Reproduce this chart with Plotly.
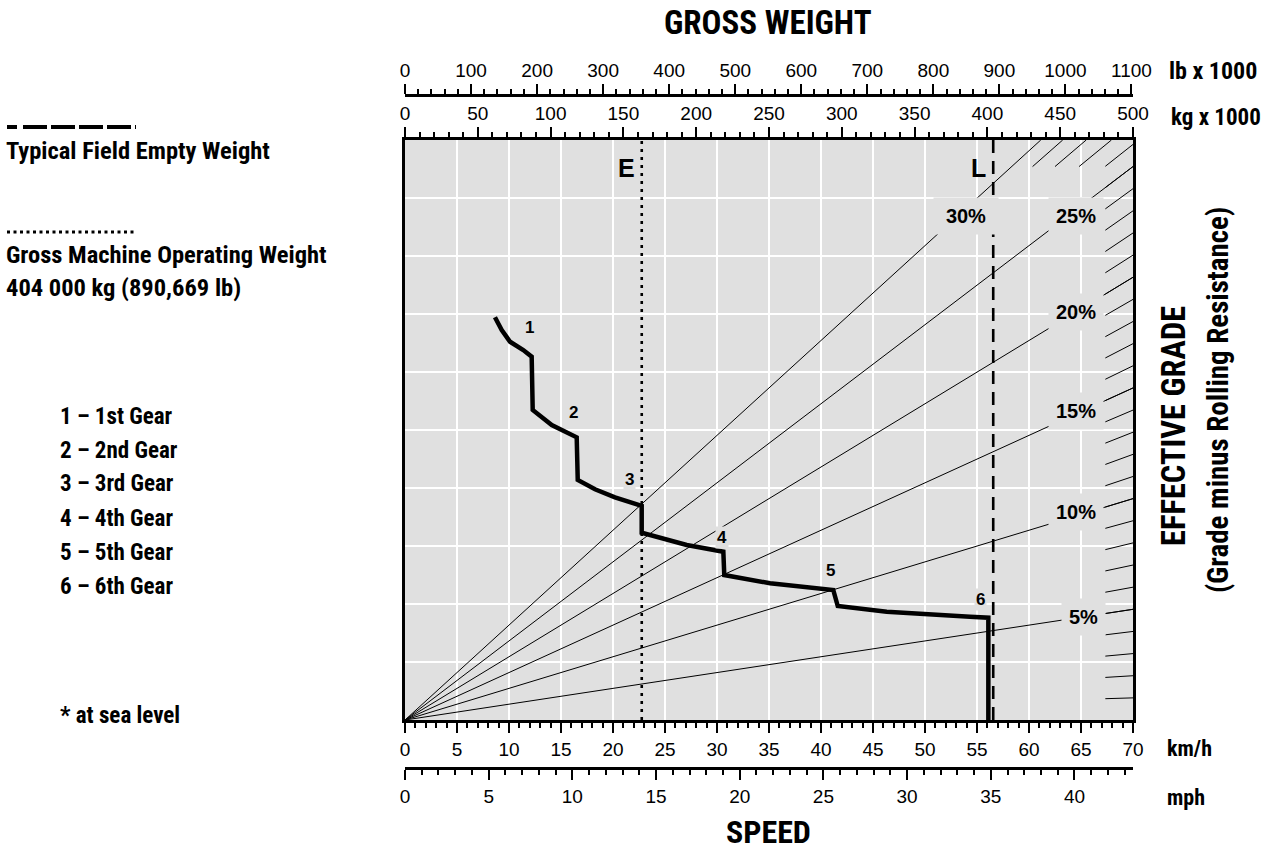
import plotly.graph_objects as go

# ---------------- data ----------------
SPEED_KMH = [8.65, 9.30, 10.10, 11.37, 12.18, 12.28, 14.11, 16.51, 16.61, 18.27, 20.19, 22.76,
             22.76, 27.09, 30.61, 30.70, 35.10, 41.18, 41.61, 46.32, 54.33, 56.09, 56.09]
RIMPULL = [90.96, 88.09, 85.44, 83.57, 82.06, 70.02, 66.63, 63.85, 54.21, 52.11, 50.30, 48.34,
           42.30, 39.53, 38.01, 32.75, 30.88, 29.36, 25.75, 24.46, 23.33, 23.11, 0.0]
GEAR_LABELS = ["1", "2", "3", "4", "5", "6"]
GEAR_LEGEND = ["1 \u2013 1st Gear", "2 \u2013 2nd Gear", "3 \u2013 3rd Gear",
               "4 \u2013 4th Gear", "5 \u2013 5th Gear", "6 \u2013 6th Gear"]

GRADES_MAJOR = [5, 10, 15, 20, 25, 30]
GRADE_LABELS = ["5%", "10%", "15%", "20%", "25%", "30%"]
GRADES_HATCH = list(range(1, 30))

EMPTY_KG = 162.6
LOADED_KG = 404.0

KG_MAX = 500.0
LB_PER_KG = 2.20462
KMH_MAX = 70.0
KMH_PER_MPH = 1.609344
RIMPULL_MAX = 131.0
HATCH_START_KG = 481.0
HATCH_TOP_START = 125.0

# label positions (pixels in the 1267x854 picture)
GEAR_LABEL_PX = [(529, 327), (573, 412), (629, 480), (722, 537), (830, 570), (980, 599)]
GRADE_LABEL_PX = [(1083, 617), (1076, 512), (1076, 411), (1076, 312), (1076, 216), (966, 216)]
GRADE_LABEL_W = [None, None, None, None, None, 50]

# ---------------- geometry helpers (pixel -> paper) ----------------
W, H = 1267, 854
def PX(x): return x / W
def PY(y): return 1 - y / H

X0, X1, Y0, Y1 = 405, 1133, 140, 720
xdom = [PX(X0), PX(X1)]
ydom = [PY(Y1), PY(Y0)]

NARROW = "Liberation Sans Narrow, Roboto Condensed, Roboto, Liberation Sans, Arial"
REG = "Liberation Sans, Arial"
GRAY = "#e0e0e0"

fig = go.Figure()

# grade hatch marks at edge
hx, hy = [], []
for g in GRADES_HATCH:
    s = g / 100.0
    if s * KG_MAX <= RIMPULL_MAX:
        hx += [HATCH_START_KG, KG_MAX, None]
        hy += [s * HATCH_START_KG, s * KG_MAX, None]
    else:
        hx += [HATCH_TOP_START / s, RIMPULL_MAX / s, None]
        hy += [HATCH_TOP_START, RIMPULL_MAX, None]
fig.add_trace(go.Scatter(x=hx, y=hy, xaxis="x2", yaxis="y", mode="lines",
                         line=dict(color="black", width=1), hoverinfo="skip", showlegend=False))

# major grade lines
gx, gy = [], []
for g in GRADES_MAJOR:
    s = g / 100.0
    if s * KG_MAX <= RIMPULL_MAX:
        ex, ey = KG_MAX, s * KG_MAX
    else:
        ex, ey = RIMPULL_MAX / s, RIMPULL_MAX
    gx += [0, ex, None]
    gy += [0, ey, None]
fig.add_trace(go.Scatter(x=gx, y=gy, xaxis="x2", yaxis="y", mode="lines",
                         line=dict(color="black", width=1), hoverinfo="skip", showlegend=False))

# empty / loaded weight lines
fig.add_trace(go.Scatter(x=[EMPTY_KG, EMPTY_KG], y=[0, RIMPULL_MAX], xaxis="x2", yaxis="y",
                         mode="lines", line=dict(color="black", width=2.6, dash="3px,5px"),
                         hoverinfo="skip", showlegend=False))
fig.add_trace(go.Scatter(x=[LOADED_KG, LOADED_KG], y=[0, RIMPULL_MAX], xaxis="x2", yaxis="y",
                         mode="lines", line=dict(color="black", width=2.6, dash="13px,8px"),
                         hoverinfo="skip", showlegend=False))

# gear curve
fig.add_trace(go.Scatter(x=SPEED_KMH, y=RIMPULL, xaxis="x", yaxis="y", mode="lines",
                         line=dict(color="black", width=4.5), hoverinfo="skip", showlegend=False))

tickfont = dict(family=REG, size=19, color="black")
common = dict(domain=xdom, showline=True, linecolor="black", linewidth=2.5, ticks="outside",
              tickcolor="black", tickwidth=2, ticklen=10, tickfont=tickfont, zeroline=False,
              fixedrange=True)

fig.update_layout(
    width=W, height=H, autosize=False, margin=dict(l=0, r=0, t=0, b=0, autoexpand=False),
    paper_bgcolor="white", plot_bgcolor=GRAY, showlegend=False,
    xaxis=dict(range=[0, KMH_MAX], anchor="y", side="bottom", dtick=5, tick0=0,
               showgrid=True, gridcolor="white", gridwidth=1.5,
               minor=dict(dtick=1, ticks="outside", ticklen=5, tickwidth=1.5, tickcolor="black"),
               **common),
    xaxis2=dict(range=[0, KG_MAX], overlaying="x", anchor="y", side="top", dtick=50, tick0=0,
                showgrid=False,
                minor=dict(dtick=10, ticks="outside", ticklen=5, tickwidth=1.5, tickcolor="black"),
                **common),
    xaxis3=dict(range=[0, KG_MAX * LB_PER_KG], overlaying="x", anchor="free", position=PY(95),
                side="top", dtick=100, tick0=0, showgrid=False,
                minor=dict(dtick=20, ticks="outside", ticklen=5, tickwidth=1.5, tickcolor="black"),
                **common),
    xaxis4=dict(range=[0, KMH_MAX / KMH_PER_MPH], overlaying="x", anchor="free", position=PY(768),
                side="bottom", dtick=5, tick0=0, showgrid=False,
                minor=dict(dtick=1, ticks="outside", ticklen=5, tickwidth=1.5, tickcolor="black"),
                **common),
    yaxis=dict(domain=ydom, range=[0, RIMPULL_MAX], dtick=RIMPULL_MAX / 10, tick0=0,
               showticklabels=False, ticks="", showgrid=True, gridcolor="white", gridwidth=1.5,
               showline=True, mirror=True, linecolor="black", linewidth=3, zeroline=False,
               fixedrange=True),
)

# dummy traces so extra axes render
fig.add_trace(go.Scatter(x=[None], y=[None], xaxis="x3", yaxis="y", showlegend=False))
fig.add_trace(go.Scatter(x=[None], y=[None], xaxis="x4", yaxis="y", showlegend=False))

ann = []
def lab_at(px, py, t, size, bg=None, pad=1, width=None):
    d = dict(x=PX(px), y=PY(py), xref="paper", yref="paper", text=t, showarrow=False,
             xanchor="center", yanchor="middle", borderpad=pad,
             font=dict(family=REG, size=size, color="black", weight="bold"))
    if bg:
        d["bgcolor"] = bg
    if width:
        d["width"] = width
    ann.append(d)

for lab, (px, py), wd in zip(GRADE_LABELS, GRADE_LABEL_PX, GRADE_LABEL_W):
    lab_at(px, py, lab, 20, GRAY, 7, wd)
for lab, (px, py) in zip(GEAR_LABELS, GEAR_LABEL_PX):
    lab_at(px, py, lab, 17, GRAY, 1)
lab_at(626, 168, "E", 25)
lab_at(978, 168, "L", 25)

def txt(x, y, t, size, anchor="left", angle=0, fam=NARROW):
    ann.append(dict(x=PX(x), y=PY(y), xref="paper", yref="paper", text=t, showarrow=False,
                    xanchor=anchor, yanchor="middle", textangle=angle, borderpad=0,
                    font=dict(family=fam, size=size, color="black", weight="bold")))

txt(768, 22, "GROSS WEIGHT", 33, "center")
txt(768, 832, "SPEED", 32, "center")
txt(1168, 71, "lb x 1000", 24)
txt(1170, 118, "kg x 1000", 23)
txt(1166, 748, "km/h", 22)
txt(1166, 797, "mph", 22)
txt(1174, 426, "EFFECTIVE GRADE", 32.5, "center", -90)
txt(1218, 400, "(Grade minus Rolling Resistance)", 29, "center", -90)

txt(5, 151, "Typical Field Empty Weight", 24.5)
txt(5, 254, "Gross Machine Operating Weight", 24.5)
txt(5, 287, "404 000 kg (890,669 lb)", 24.5)
for i, t in enumerate(GEAR_LEGEND):
    txt(59, 416 + 34 * i, t, 23)
txt(59, 715, "* at sea level", 23)

fig.update_layout(annotations=ann)

fig.add_shape(type="line", xref="paper", yref="paper", x0=PX(7), x1=PX(136), y0=PY(127), y1=PY(127),
              line=dict(color="black", width=4, dash="10px,6px,24px,4px,24px,4px,24px,4px,24px,4px"))
fig.add_shape(type="line", xref="paper", yref="paper", x0=PX(7), x1=PX(136), y0=PY(232), y1=PY(232),
              line=dict(color="black", width=3, dash="3px,3.5px"))

fig.write_html("out.html", config={"displayModeBar": False},
               post_script="document.body.style.margin='0';document.body.style.overflow='hidden';"
                           "document.documentElement.style.overflow='hidden';")
